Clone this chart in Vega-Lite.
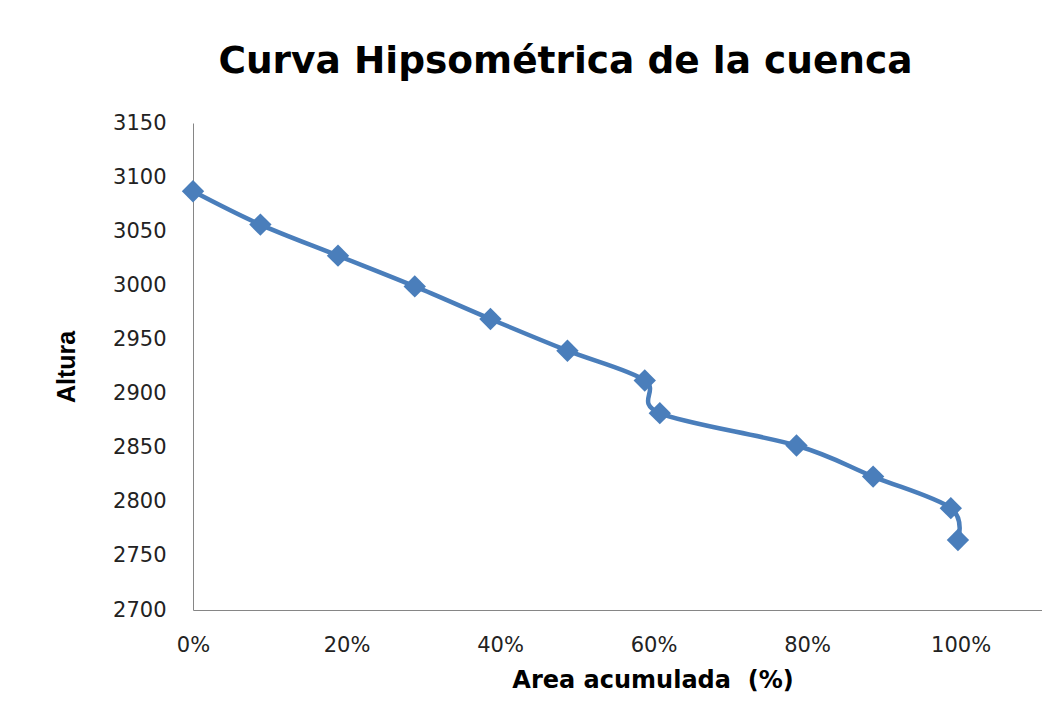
{
  "$schema": "https://vega.github.io/schema/vega-lite/v6.json",
  "width": 849,
  "height": 487,
  "autosize": {"type": "none"},
  "padding": {"left": 193, "top": 123, "right": 0, "bottom": 112},
  "background": "white",
  "config": {"view": {"stroke": null}, "font": "DejaVu Sans"},
  "title": {
    "text": "Curva Hipsométrica de la cuenca",
    "font": "DejaVu Sans",
    "fontSize": 37.5,
    "fontWeight": "bold",
    "color": "black",
    "anchor": "middle",
    "frame": "group",
    "baseline": "alphabetic",
    "dx": -52,
    "offset": 2
  },
  "data": {
    "values": [
      {"area": 0.0, "altura": 3086.9},
      {"area": 0.0878, "altura": 3056.1},
      {"area": 0.1889, "altura": 3027.4},
      {"area": 0.2889, "altura": 2999.0},
      {"area": 0.3875, "altura": 2968.9},
      {"area": 0.4878, "altura": 2939.6},
      {"area": 0.5885, "altura": 2912.1},
      {"area": 0.6081, "altura": 2881.9},
      {"area": 0.7862, "altura": 2852.0},
      {"area": 0.886, "altura": 2823.3},
      {"area": 0.9872, "altura": 2794.1},
      {"area": 0.9965, "altura": 2764.7}
    ]
  },
  "encoding": {
    "x": {
      "field": "area",
      "type": "quantitative",
      "scale": {"domain": [0, 1.106], "nice": false},
      "axis": {
        "values": [0, 0.2, 0.4, 0.6, 0.8, 1.0],
        "format": ".0%",
        "grid": false,
        "ticks": false,
        "labelFlush": false,
        "labelOverlap": false,
        "domainColor": "#868686",
        "domainWidth": 1,
        "labelFont": "DejaVu Sans",
        "labelFontSize": 21,
        "labelColor": "#222222",
        "labelPadding": 24,
        "title": "Area acumulada \u00a0(%)",
        "titleFont": "DejaVu Sans",
        "titleFontSize": 24,
        "titleFontWeight": "bold",
        "titleColor": "black",
        "titleX": 459.5,
        "titleY": 77,
        "titleBaseline": "alphabetic",
        "titleAlign": "center"
      }
    },
    "y": {
      "field": "altura",
      "type": "quantitative",
      "scale": {"domain": [2700, 3150], "nice": false, "zero": false},
      "axis": {
        "values": [2700, 2750, 2800, 2850, 2900, 2950, 3000, 3050, 3100, 3150],
        "format": "d",
        "grid": false,
        "ticks": false,
        "labelFlush": false,
        "labelOverlap": false,
        "domainColor": "#868686",
        "domainWidth": 1,
        "labelFont": "DejaVu Sans",
        "labelFontSize": 21,
        "labelColor": "#222222",
        "labelPadding": 27,
        "title": "Altura",
        "titleFont": "Liberation Sans",
        "titleFontSize": 25,
        "titleFontWeight": "bold",
        "titleColor": "black",
        "titleAngle": 270,
        "titleX": -118.5,
        "titleY": 243.5,
        "titleBaseline": "alphabetic",
        "titleAlign": "center"
      }
    }
  },
  "layer": [
    {"mark": {"type": "line", "interpolate": "cardinal", "color": "#4a7ebb", "strokeWidth": 4.5}},
    {"mark": {"type": "point", "shape": "diamond", "filled": true, "size": 500, "color": "#4a7ebb", "opacity": 1}}
  ]
}
